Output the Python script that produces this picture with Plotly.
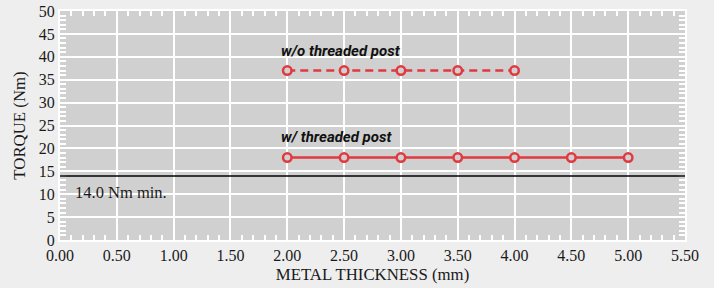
import plotly.graph_objects as go

thickness_wo = [2.0, 2.5, 3.0, 3.5, 4.0]
torque_wo = [37, 37, 37, 37, 37]
thickness_w = [2.0, 2.5, 3.0, 3.5, 4.0, 4.5, 5.0]
torque_w = [18, 18, 18, 18, 18, 18, 18]
min_torque = 14.0
x_ticks = [0, 0.5, 1.0, 1.5, 2.0, 2.5, 3.0, 3.5, 4.0, 4.5, 5.0, 5.5]
y_ticks = list(range(0, 51, 5))

RED = "#e0393e"
SERIF = "Liberation Serif"
TXT = "#1a1a1a"

fig = go.Figure()
fig.add_trace(go.Scatter(
    x=thickness_wo, y=torque_wo, mode="lines+markers",
    line=dict(color=RED, width=2.5, dash="8px,5px"),
    marker=dict(symbol="circle", size=8.5, color="#d0d0d0", line=dict(color=RED, width=2.5)),
    showlegend=False))
fig.add_trace(go.Scatter(
    x=thickness_w, y=torque_w, mode="lines+markers",
    line=dict(color=RED, width=2.5),
    marker=dict(symbol="circle", size=8.5, color="#d0d0d0", line=dict(color=RED, width=2.5)),
    showlegend=False))

fig.add_shape(type="line", xref="paper", x0=0, x1=1, yref="y", y0=min_torque, y1=min_torque,
              line=dict(color="black", width=1.5), layer="above")

fig.add_annotation(x=2.0, y=41.3, xref="x", yref="y", text="<b><i>w/o threaded post</i></b>",
                   showarrow=False, xanchor="left", xshift=-8,
                   font=dict(family="Roboto", size=15, color="#111"))
fig.add_annotation(x=2.0, y=22.4, xref="x", yref="y", text="<b><i>w/ threaded post</i></b>",
                   showarrow=False, xanchor="left", xshift=-8,
                   font=dict(family="Roboto", size=15, color="#111"))
fig.add_annotation(x=0.11, y=10.3, xref="x", yref="y", text="14.0 Nm min.",
                   showarrow=False, xanchor="left",
                   font=dict(family=SERIF, size=16.5, color=TXT))

fig.update_layout(
    width=714, height=288,
    margin=dict(l=60, r=29, t=11, b=48, autoexpand=False),
    paper_bgcolor="#eeeeee", plot_bgcolor="#d0d0d0",
    font=dict(family=SERIF, size=16, color=TXT),
)
fig.update_xaxes(
    range=[0, 5.5], tickvals=x_ticks, ticktext=[f"{v:.2f}" for v in x_ticks],
    showgrid=True, gridcolor="white", gridwidth=1.5,
    ticks="inside", ticklen=5, tickcolor="white", tickwidth=1.5,
    minor=dict(dtick=0.1, ticks="inside", ticklen=5, tickcolor="white", tickwidth=1.5, showgrid=False),
    showline=True, linecolor="white", linewidth=2, mirror="allticks",
    zeroline=False, automargin=False,
    title=dict(text="METAL THICKNESS (mm)", standoff=5, font=dict(family=SERIF, size=16.8, color=TXT)),
    tickfont=dict(family=SERIF, size=16, color=TXT),
)
fig.update_yaxes(
    range=[0, 50], tickvals=y_ticks,
    showgrid=True, gridcolor="white", gridwidth=1.5,
    ticks="inside", ticklen=6, tickcolor="white", tickwidth=1.5,
    minor=dict(dtick=1, ticks="inside", ticklen=6, tickcolor="white", tickwidth=1.5, showgrid=False),
    showline=True, linecolor="white", linewidth=2, mirror="allticks",
    zeroline=False, automargin=False,
    title=dict(text="TORQUE (Nm)", standoff=9, font=dict(family=SERIF, size=16.8, color=TXT)),
    tickfont=dict(family=SERIF, size=16, color=TXT),
)

fig.write_html("out.html", config={"displayModeBar": False},
               post_script="document.body.style.margin='0';")
